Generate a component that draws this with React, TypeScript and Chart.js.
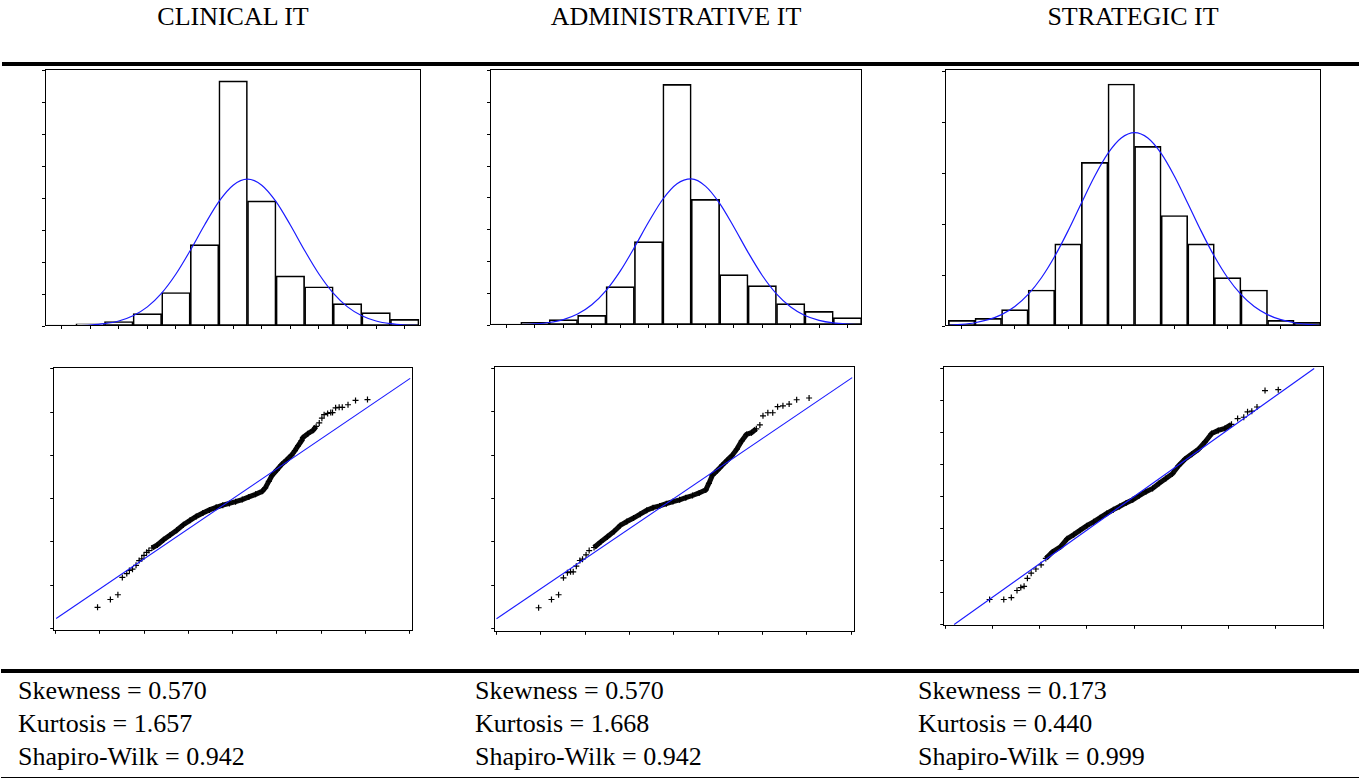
import React, { useEffect, useRef } from 'react';
import { Chart, registerables } from 'chart.js';
Chart.register(...registerables);

const SERIF = '"Liberation Serif", "Times New Roman", serif';

// ---------- titles & statistics ----------
const panelTitles = ['CLINICAL IT', 'ADMINISTRATIVE IT', 'STRATEGIC IT'];
const skewness = ['0.570', '0.570', '0.173'];
const kurtosis = ['1.657', '1.668', '0.440'];
const shapiroWilk = ['0.942', '0.942', '0.999'];

// ---------- histograms (percent per bin) ----------
const binsClinical = [0.5, 1.5, 2.5, 3.5, 4.5, 5.5, 6.5, 7.5, 8.5, 9.5, 10.5, 11.5, 12.5];
const histClinical = [0.15, 0.35, 0.7, 1.95, 5.25, 12.75, 38.4, 19.6, 7.85, 6.15, 3.5, 2.1, 1.05];
const binsAdmin = [0.5, 1.5, 2.5, 3.5, 4.5, 5.5, 6.5, 7.5, 8.5, 9.5, 10.5, 11.5, 12.5];
const histAdmin = [0.16, 0.42, 0.84, 1.52, 6.04, 13.12, 37.9, 19.79, 7.93, 6.19, 3.36, 2.15, 1.15];
const binsStrategic = [0.5, 1.5, 2.5, 3.5, 4.5, 5.5, 6.5, 7.5, 8.5, 9.5, 10.5, 11.5, 12.5, 13.5];
const histStrategic = [0.56, 0.75, 1.61, 3.54, 8.07, 16.08, 23.79, 17.65, 10.86, 8.07, 4.76, 3.54, 0.56, 0.36];

// fitted normal curves
const curveXClinical = [0, 0.5, 1, 1.5, 2, 2.5, 3, 3.5, 4, 4.5, 5, 5.5, 6, 6.5, 7, 7.5, 8, 8.5, 9, 9.5, 10, 10.5, 11, 11.5, 12, 12.5, 13];
const curveYClinical = [0.01, 0.02, 0.06, 0.15, 0.36, 0.79, 1.61, 3.0, 5.15, 8.14, 11.83, 15.82, 19.48, 22.06, 23.0, 22.06, 19.48, 15.82, 11.83, 8.14, 5.15, 3.0, 1.61, 0.79, 0.36, 0.15, 0.06];
const curveXAdmin = [0, 0.5, 1, 1.5, 2, 2.5, 3, 3.5, 4, 4.5, 5, 5.5, 6, 6.5, 7, 7.5, 8, 8.5, 9, 9.5, 10, 10.5, 11, 11.5, 12, 12.5, 13];
const curveYAdmin = [0.01, 0.02, 0.06, 0.17, 0.39, 0.85, 1.72, 3.18, 5.41, 8.48, 12.22, 16.21, 19.8, 22.24, 23.0, 21.87, 19.15, 15.43, 11.44, 7.8, 4.9, 2.83, 1.5, 0.74, 0.33, 0.14, 0.05];
const curveXStrategic = [0, 0.5, 1, 1.5, 2, 2.5, 3, 3.5, 4, 4.5, 5, 5.5, 6, 6.5, 7, 7.5, 8, 8.5, 9, 9.5, 10, 10.5, 11, 11.5, 12, 12.5, 13, 13.5, 14];
const curveYStrategic = [0.07, 0.16, 0.32, 0.62, 1.12, 1.91, 3.1, 4.74, 6.85, 9.35, 12.07, 14.72, 16.96, 18.47, 19.0, 18.47, 16.96, 14.72, 12.07, 9.35, 6.85, 4.74, 3.1, 1.91, 1.12, 0.62, 0.32, 0.16, 0.07];

const histYTicks40 = [0, 5, 10, 15, 20, 25, 30, 35, 40];
const histYTicks25 = [0, 5, 10, 15, 20, 25];
const histXTicks13 = [0.5, 1.5, 2.5, 3.5, 4.5, 5.5, 6.5, 7.5, 8.5, 9.5, 10.5, 11.5, 12.5];
const histXTicksStrategic = [0.5, 2.5, 4.5, 6.5, 8.5, 10.5, 12.5];

// ---------- normal Q-Q plots ----------
const qqClinicalX = [-3.05, -2.76, -2.59, -2.49, -2.39, -2.33, -2.26, -2.18, -2.11, -2.05, -2.0, -1.94, -1.89, -1.82, -1.7, -1.56, -1.41, -1.26, -1.11, -0.96, -0.82, -0.67, -0.52, -0.37, -0.22, -0.07, 0.07, 0.22, 0.37, 0.52, 0.67, 0.74, 0.82, 0.89, 1.0, 1.11, 1.22, 1.33, 1.41, 1.48, 1.56, 1.59, 1.7, 1.82, 1.89, 1.96, 2.02, 2.07, 2.15, 2.22, 2.26, 2.33, 2.41, 2.48, 2.61, 2.78, 3.05];
const qqClinicalY = [-2.51, -2.33, -2.22, -1.82, -1.73, -1.66, -1.63, -1.54, -1.43, -1.39, -1.31, -1.24, -1.2, -1.14, -1.07, -0.95, -0.84, -0.73, -0.6, -0.5, -0.41, -0.33, -0.26, -0.2, -0.15, -0.11, -0.07, -0.02, 0.04, 0.1, 0.17, 0.25, 0.4, 0.53, 0.66, 0.79, 0.89, 1.0, 1.11, 1.22, 1.34, 1.41, 1.5, 1.58, 1.67, 1.75, 1.86, 1.94, 1.97, 1.99, 1.99, 2.1, 2.11, 2.11, 2.17, 2.27, 2.29];
const qqClinicalLineX = [-3.985, 4.015];
const qqClinicalLineY = [-2.77, 2.78];

const qqAdminX = [-3.05, -2.76, -2.6, -2.49, -2.4, -2.33, -2.27, -2.2, -2.12, -2.06, -1.98, -1.91, -1.8, -1.65, -1.5, -1.35, -1.21, -1.06, -0.91, -0.76, -0.61, -0.47, -0.32, -0.17, -0.02, 0.13, 0.27, 0.42, 0.57, 0.72, 0.79, 0.87, 0.98, 1.09, 1.2, 1.31, 1.42, 1.53, 1.64, 1.75, 1.86, 1.94, 2.01, 2.12, 2.23, 2.34, 2.46, 2.6, 2.77, 3.05];
const qqAdminY = [-2.52, -2.33, -2.22, -1.83, -1.71, -1.69, -1.69, -1.56, -1.43, -1.4, -1.3, -1.2, -1.13, -1.0, -0.88, -0.76, -0.62, -0.53, -0.45, -0.36, -0.27, -0.21, -0.17, -0.12, -0.07, -0.03, 0.02, 0.07, 0.13, 0.2, 0.35, 0.54, 0.65, 0.77, 0.88, 0.99, 1.14, 1.33, 1.48, 1.52, 1.61, 1.7, 1.91, 1.98, 1.98, 2.12, 2.14, 2.18, 2.28, 2.32];
const qqAdminLineX = [-4.0, 4.022];
const qqAdminLineY = [-2.775, 2.791];

const qqStrategicX = [-3.06, -2.76, -2.6, -2.48, -2.4, -2.33, -2.26, -2.18, -2.08, -1.97, -1.87, -1.73, -1.56, -1.42, -1.28, -1.14, -1.0, -0.86, -0.72, -0.58, -0.44, -0.31, -0.17, -0.03, 0.11, 0.25, 0.39, 0.53, 0.67, 0.81, 0.94, 1.08, 1.22, 1.36, 1.5, 1.64, 1.78, 1.92, 2.06, 2.19, 2.32, 2.4, 2.49, 2.6, 2.77, 3.05];
const qqStrategicY = [-3.21, -3.21, -3.15, -2.93, -2.84, -2.8, -2.55, -2.39, -2.26, -2.13, -1.93, -1.73, -1.57, -1.32, -1.19, -1.05, -0.91, -0.79, -0.66, -0.53, -0.41, -0.31, -0.2, -0.1, 0.03, 0.15, 0.25, 0.41, 0.56, 0.71, 0.96, 1.17, 1.32, 1.47, 1.7, 1.96, 2.06, 2.12, 2.25, 2.43, 2.47, 2.64, 2.66, 2.79, 3.3, 3.33];
const qqStrategicLineX = [-3.81, 3.81];
const qqStrategicLineY = [-3.99, 3.99];

const qqXTicks = [-4, -3, -2, -1, 0, 1, 2, 3, 4];
const qqYTicks7 = [-3, -2, -1, 0, 1, 2, 3];
const qqYTicks9 = [-4, -3, -2, -1, 0, 1, 2, 3, 4];

// ---------- layout ----------
type Box = { l: number; t: number; r: number; b: number };
const TICK = 3;
const PAD = 1;

const framePlugin = {
  id: 'frameBox',
  afterDatasetsDraw(chart: any) {
    const { ctx, chartArea: a } = chart;
    ctx.save();
    ctx.strokeStyle = '#000';
    ctx.lineWidth = 1;
    ctx.strokeRect(Math.round(a.left) + 0.5, Math.round(a.top) + 0.5, Math.round(a.right - a.left) - 1, Math.round(a.bottom - a.top) - 1);
    ctx.restore();
  },
};

function axis(min: number, max: number, ticks: number[]) {
  return {
    type: 'linear',
    min,
    max,
    offset: false,
    afterBuildTicks: (s: any) => {
      s.ticks = ticks.map((v) => ({ value: v }));
    },
    ticks: { display: false },
    grid: { offset: false, drawOnChartArea: false, drawTicks: true, tickLength: TICK, color: '#000', lineWidth: 1 },
    border: { display: false },
  };
}

const baseOptions = {
  responsive: true,
  maintainAspectRatio: false,
  animation: false,
  events: [],
  layout: { padding: { top: PAD, right: PAD, left: 0, bottom: 0 } },
  plugins: { legend: { display: false }, tooltip: { enabled: false } },
};

function histConfig(bins: number[], values: number[], cx: number[], cy: number[], xMin: number, xMax: number, yMax: number, xTicks: number[], yTicks: number[]) {
  return {
    type: 'bar',
    data: {
      datasets: [
        {
          type: 'line',
          order: 0,
          data: cx.map((x, i) => ({ x, y: cy[i] })),
          borderColor: '#1a1aff',
          borderWidth: 1.2,
          pointRadius: 0,
          cubicInterpolationMode: 'monotone',
          fill: false,
        },
        {
          type: 'bar',
          order: 1,
          data: bins.map((x, i) => ({ x, y: values[i] })),
          backgroundColor: 'rgba(255,255,255,0)',
          borderColor: '#000',
          borderWidth: 1,
          borderSkipped: false,
          barPercentage: 1,
          categoryPercentage: 1,
        },
      ],
    },
    options: {
      ...baseOptions,
      scales: { x: axis(xMin, xMax, xTicks), y: axis(0, yMax, yTicks) },
    },
    plugins: [framePlugin],
  };
}

function qqConfig(xs: number[], ys: number[], bandFrom: number, bandTo: number, lx: number[], ly: number[], xMin: number, xMax: number, yMin: number, yMax: number, yTicks: number[]) {
  const pts = xs.map((x, i) => ({ x, y: ys[i] }));
  return {
    type: 'scatter',
    data: {
      datasets: [
        {
          order: 0,
          data: lx.map((x, i) => ({ x, y: ly[i] })),
          showLine: true,
          borderColor: '#1a1aff',
          borderWidth: 1.1,
          pointRadius: 0,
        },
        {
          order: 1,
          data: pts,
          pointStyle: 'cross',
          pointRadius: 3,
          borderColor: '#000',
          backgroundColor: '#000',
          borderWidth: 1.2,
        },
        {
          order: 2,
          data: pts.slice(bandFrom, bandTo + 1),
          showLine: true,
          borderColor: '#0a0a0a',
          borderWidth: 5,
          pointRadius: 0,
        },
      ],
    },
    options: {
      ...baseOptions,
      scales: { x: axis(xMin, xMax, qqXTicks), y: axis(yMin, yMax, yTicks) },
    },
    plugins: [framePlugin],
  };
}

function ChartBox({ box, makeConfig }: { box: Box; makeConfig: () => any }) {
  const ref = useRef<HTMLCanvasElement>(null);
  useEffect(() => {
    const chart = new Chart(ref.current as HTMLCanvasElement, makeConfig());
    return () => chart.destroy();
  }, []);
  return (
    <div
      style={{
        position: 'absolute',
        left: box.l - TICK,
        top: box.t - PAD,
        width: box.r - box.l + TICK + PAD,
        height: box.b - box.t + TICK + PAD,
      }}
    >
      <canvas ref={ref} />
    </div>
  );
}

const histBoxes: Box[] = [
  { l: 45, t: 69, r: 421, b: 326 },
  { l: 490, t: 69, r: 862, b: 325 },
  { l: 945, t: 69, r: 1321, b: 326 },
];
const qqBoxes: Box[] = [
  { l: 51, t: 363, r: 417, b: 633 },
  { l: 492, t: 362, r: 859, b: 634 },
  { l: 941, t: 362, r: 1328, b: 628 },
];
const statLeft = [18, 475, 918];
const statTop = [678, 711, 744];

export default function App() {
  const text = (extra: any) => ({
    position: 'absolute' as const,
    fontFamily: SERIF,
    fontSize: 26,
    lineHeight: '26px',
    color: '#000',
    whiteSpace: 'nowrap' as const,
    ...extra,
  });
  return (
    <div style={{ position: 'absolute', left: 0, top: 0, width: 1359, height: 780, background: '#fff', overflow: 'hidden' }}>
      {panelTitles.map((t, i) => {
        const c = (histBoxes[i].l + histBoxes[i].r) / 2;
        return (
          <div key={t} style={text({ left: c - 250, width: 500, top: 4, textAlign: 'center' })}>
            {t}
          </div>
        );
      })}
      <div style={{ position: 'absolute', left: 2, top: 62, width: 1357, height: 4, background: '#000' }} />
      <ChartBox box={histBoxes[0]} makeConfig={() => histConfig(binsClinical, histClinical, curveXClinical, curveYClinical, -0.08, 13.07, 40.26, histXTicks13, histYTicks40)} />
      <ChartBox box={histBoxes[1]} makeConfig={() => histConfig(binsAdmin, histAdmin, curveXAdmin, curveYAdmin, -0.082, 13.01, 40.31, histXTicks13, histYTicks40)} />
      <ChartBox box={histBoxes[2]} makeConfig={() => histConfig(binsStrategic, histStrategic, curveXStrategic, curveYStrategic, -0.126, 14.01, 25.26, histXTicksStrategic, histYTicks25)} />
      <ChartBox box={qqBoxes[0]} makeConfig={() => qqConfig(qqClinicalX, qqClinicalY, 13, 44, qqClinicalLineX, qqClinicalLineY, -4.052, 4.074, -3.053, 3.038, qqYTicks7)} />
      <ChartBox box={qqBoxes[1]} makeConfig={() => qqConfig(qqAdminX, qqAdminY, 12, 40, qqAdminLineX, qqAdminLineY, -4.052, 4.081, -3.075, 3.054, qqYTicks7)} />
      <ChartBox box={qqBoxes[2]} makeConfig={() => qqConfig(qqStrategicX, qqStrategicY, 10, 38, qqStrategicLineX, qqStrategicLineY, -4.042, 4.014, -4.03, 4.061, qqYTicks9)} />
      <div style={{ position: 'absolute', left: 1, top: 669, width: 1358, height: 4, background: '#000' }} />
      {[0, 1, 2].map((i) => (
        <React.Fragment key={i}>
          <div style={text({ left: statLeft[i], top: statTop[0] })}>{`Skewness = ${skewness[i]}`}</div>
          <div style={text({ left: statLeft[i], top: statTop[1] })}>{`Kurtosis = ${kurtosis[i]}`}</div>
          <div style={text({ left: statLeft[i], top: statTop[2] })}>{`Shapiro-Wilk = ${shapiroWilk[i]}`}</div>
        </React.Fragment>
      ))}
      <div style={{ position: 'absolute', left: 1, top: 777, width: 1358, height: 1, background: '#000' }} />
    </div>
  );
}
